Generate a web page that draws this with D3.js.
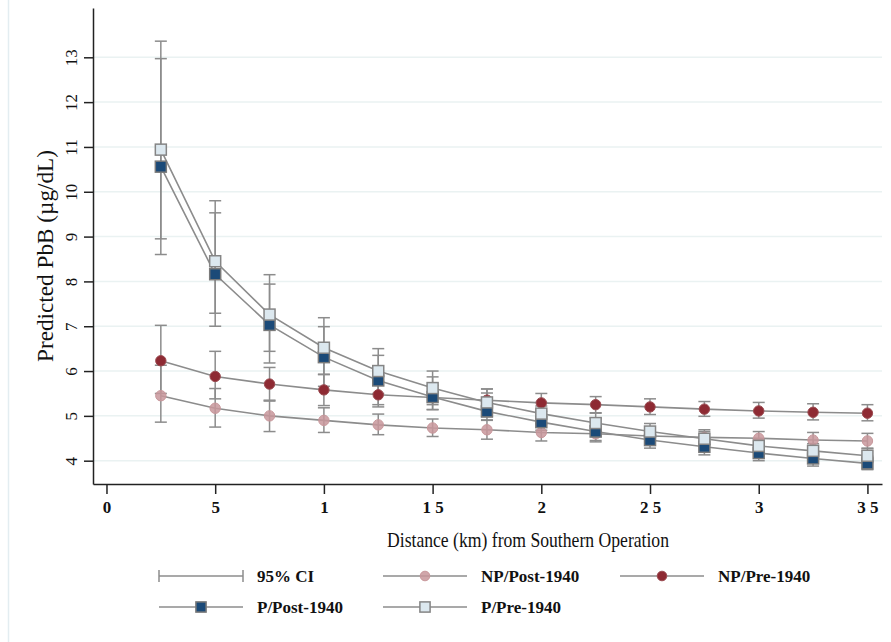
<!DOCTYPE html>
<html>
<head>
<meta charset="utf-8">
<script src="https://cdn.jsdelivr.net/npm/d3@7"></script>
<style>
  body { margin: 0; background: #fff; }
  svg text { font-family: "Liberation Serif", "DejaVu Serif", serif; }
</style>
</head>
<body>
<div id="chart"></div>
<script>
// distances (km)
const distances = [0.25, 0.5, 0.75, 1, 1.25, 1.5, 1.75, 2, 2.25, 2.5, 2.75, 3, 3.25, 3.5];

const npPost = [5.45, 5.17, 5.0, 4.9, 4.8, 4.73, 4.69, 4.63, 4.6, 4.55, 4.52, 4.5, 4.46, 4.44];
const npPostLo = [4.86, 4.75, 4.65, 4.63, 4.58, 4.54, 4.48, 4.44, 4.42, 4.38, 4.36, 4.33, 4.29, 4.27];
const npPostHi = [6.13, 5.61, 5.33, 5.18, 5.04, 4.93, 4.9, 4.83, 4.78, 4.73, 4.69, 4.65, 4.63, 4.61];

const npPre = [6.23, 5.88, 5.71, 5.58, 5.47, 5.41, 5.35, 5.29, 5.25, 5.2, 5.15, 5.11, 5.08, 5.06];
const npPreLo = [5.5, 5.38, 5.35, 5.23, 5.2, 5.14, 5.12, 5.1, 5.07, 5.03, 4.99, 4.95, 4.91, 4.89];
const npPreHi = [7.02, 6.44, 6.08, 5.93, 5.75, 5.68, 5.6, 5.5, 5.43, 5.38, 5.32, 5.3, 5.27, 5.25];

const pPost = [10.56, 8.16, 7.03, 6.31, 5.79, 5.42, 5.1, 4.86, 4.65, 4.46, 4.31, 4.17, 4.05, 3.94];
const pPostLo = [8.95, 7.0, 6.18, 5.66, 5.25, 5.14, 4.91, 4.68, 4.45, 4.28, 4.13, 4.0, 3.88, 3.8];
const pPostHi = [12.97, 9.53, 7.94, 6.99, 6.35, 5.87, 5.51, 5.22, 4.95, 4.7, 4.5, 4.34, 4.22, 4.1];

const pPre = [10.94, 8.45, 7.26, 6.52, 6.0, 5.62, 5.3, 5.05, 4.84, 4.65, 4.49, 4.33, 4.22, 4.11];
const pPreLo = [8.6, 7.29, 6.44, 5.92, 5.5, 5.25, 4.98, 4.82, 4.65, 4.49, 4.35, 4.2, 4.07, 3.96];
const pPreHi = [13.36, 9.8, 8.15, 7.19, 6.5, 6.0, 5.6, 5.3, 5.06, 4.83, 4.65, 4.48, 4.38, 4.28];

const xTicks = [0, 0.5, 1, 1.5, 2, 2.5, 3, 3.5];
const xTickLabels = ['0', '5', '1', '1 5', '2', '2 5', '3', '3 5'];
const yTicks = [4, 5, 6, 7, 8, 9, 10, 11, 12, 13];

const series = [
  { name: 'NP/Post-1940', est: npPost, lo: npPostLo, hi: npPostHi, shape: 'circle', fill: '#c8979b', stroke: '#c8979b', opacity: 0.85 },
  { name: 'NP/Pre-1940', est: npPre, lo: npPreLo, hi: npPreHi, shape: 'circle', fill: '#8e2a33', stroke: '#9a4a50', opacity: 1 },
  { name: 'P/Post-1940', est: pPost, lo: pPostLo, hi: pPostHi, shape: 'square', fill: '#1b4a78', stroke: '#7a7a7a', opacity: 1 },
  { name: 'P/Pre-1940', est: pPre, lo: pPreLo, hi: pPreHi, shape: 'square', fill: '#dce8ef', stroke: '#858585', opacity: 1 }
];

const width = 891, height = 642;
const plotLeft = 93, plotRight = 882, plotTop = 8, plotBottom = 484;
const lineGray = '#8c8c8c';
const serif = '"Liberation Serif", "DejaVu Serif", serif';

const svg = d3.select('#chart').append('svg')
  .attr('width', width)
  .attr('height', height);

// outer graph border (only faintly visible)
svg.append('line')
  .attr('x1', 8.5).attr('x2', 8.5).attr('y1', 0).attr('y2', height)
  .attr('stroke', '#e3edf1').attr('stroke-width', 1.5);

const x = d3.scaleLinear().domain([-0.062, 3.567]).range([plotLeft, plotRight]);
const y = d3.scaleLinear().domain([3.48, 14.1]).range([plotBottom, plotTop]);

// gridlines
svg.append('g')
  .selectAll('line')
  .data(yTicks)
  .enter()
  .append('line')
  .attr('x1', plotLeft).attr('x2', plotRight)
  .attr('y1', d => y(d)).attr('y2', d => y(d))
  .attr('stroke', '#eaf2f2').attr('stroke-width', 1.5);

// axes
const yAxis = svg.append('g')
  .attr('transform', `translate(${plotLeft},0)`)
  .call(d3.axisLeft(y).tickValues(yTicks).tickSize(9).tickSizeOuter(0))
  .attr('font-family', serif);
yAxis.select('.domain').attr('stroke', '#222').attr('stroke-width', 1.5);
yAxis.selectAll('.tick line').attr('stroke', '#222').attr('stroke-width', 1.5);
yAxis.selectAll('.tick text')
  .attr('font-size', 17)
  .attr('fill', '#111')
  .attr('text-anchor', 'middle')
  .attr('x', 0)
  .attr('dy', null)
  .attr('y', 0)
  .attr('transform', 'translate(-16,0) rotate(-90)');

const xAxis = svg.append('g')
  .attr('transform', `translate(0,${plotBottom})`)
  .call(d3.axisBottom(x).tickValues(xTicks).tickFormat((d, i) => xTickLabels[i]).tickSize(10).tickPadding(7).tickSizeOuter(0))
  .attr('font-family', serif);
xAxis.select('.domain').attr('stroke', '#222').attr('stroke-width', 1.5);
xAxis.selectAll('.tick line').attr('stroke', '#222').attr('stroke-width', 1.5);
xAxis.selectAll('.tick text').attr('font-size', 17).attr('fill', '#111').attr('font-weight', 'bold');

// axis titles
svg.append('text')
  .attr('transform', `translate(53,${256}) rotate(-90)`)
  .attr('text-anchor', 'middle')
  .attr('font-size', 23)
  .attr('fill', '#111')
  .attr('textLength', 212)
  .attr('lengthAdjust', 'spacingAndGlyphs')
  .text('Predicted PbB (µg/dL)');

svg.append('text')
  .attr('x', 528)
  .attr('y', 547)
  .attr('text-anchor', 'middle')
  .attr('font-size', 22)
  .attr('fill', '#111')
  .attr('textLength', 282)
  .attr('lengthAdjust', 'spacingAndGlyphs')
  .text('Distance (km) from Southern Operation');

const plot = svg.append('g');
const capHalf = 6;

// confidence intervals
series.forEach(s => {
  const g = plot.append('g');
  distances.forEach((dist, i) => {
    const cx = x(dist);
    g.append('line').attr('x1', cx).attr('x2', cx).attr('y1', y(s.lo[i])).attr('y2', y(s.hi[i]))
      .attr('stroke', lineGray).attr('stroke-width', 1.5);
    [s.lo[i], s.hi[i]].forEach(v => {
      g.append('line').attr('x1', cx - capHalf).attr('x2', cx + capHalf).attr('y1', y(v)).attr('y2', y(v))
        .attr('stroke', lineGray).attr('stroke-width', 1.5);
    });
  });
});

// connecting lines
const line = d3.line().x((d, i) => x(distances[i])).y(d => y(d));
series.forEach(s => {
  plot.append('path')
    .attr('d', line(s.est))
    .attr('fill', 'none')
    .attr('stroke', lineGray)
    .attr('stroke-width', 1.6);
});

function drawMarker(g, s, cx, cy, r = 5.2) {
  if (s.shape === 'circle') {
    g.append('circle').attr('cx', cx).attr('cy', cy).attr('r', r)
      .attr('fill', s.fill).attr('fill-opacity', s.opacity)
      .attr('stroke', s.stroke).attr('stroke-width', 1);
  } else {
    g.append('rect').attr('x', cx - r - 0.3).attr('y', cy - r - 0.3).attr('width', 2 * r + 0.6).attr('height', 2 * r + 0.6)
      .attr('fill', s.fill).attr('stroke', s.stroke).attr('stroke-width', 1.5);
  }
}

series.forEach(s => {
  const g = plot.append('g');
  s.est.forEach((v, i) => drawMarker(g, s, x(distances[i]), y(v)));
});

// legend
const legendItems = [
  { label: '95% CI', ci: true, lx: 159, ly: 576 },
  { label: 'NP/Post-1940', s: series[0], lx: 383, ly: 576 },
  { label: 'NP/Pre-1940', s: series[1], lx: 620, ly: 576 },
  { label: 'P/Post-1940', s: series[2], lx: 159, ly: 607 },
  { label: 'P/Pre-1940', s: series[3], lx: 383, ly: 607 }
];
const legend = svg.append('g');
legendItems.forEach(it => {
  const g = legend.append('g');
  const w = 84;
  g.append('line').attr('x1', it.lx).attr('x2', it.lx + w).attr('y1', it.ly).attr('y2', it.ly)
    .attr('stroke', lineGray).attr('stroke-width', 1.5);
  if (it.ci) {
    [it.lx, it.lx + w].forEach(px => {
      g.append('line').attr('x1', px).attr('x2', px).attr('y1', it.ly - 6).attr('y2', it.ly + 6)
        .attr('stroke', lineGray).attr('stroke-width', 1.5);
    });
  } else {
    drawMarker(g, it.s, it.lx + w / 2, it.ly, 4.8);
  }
  g.append('text')
    .attr('x', it.lx + w + 14)
    .attr('y', it.ly)
    .attr('dy', '0.35em')
    .attr('font-size', 17)
    .attr('font-weight', 'bold')
    .attr('fill', '#111')
    .text(it.label);
});
</script>
</body>
</html>
